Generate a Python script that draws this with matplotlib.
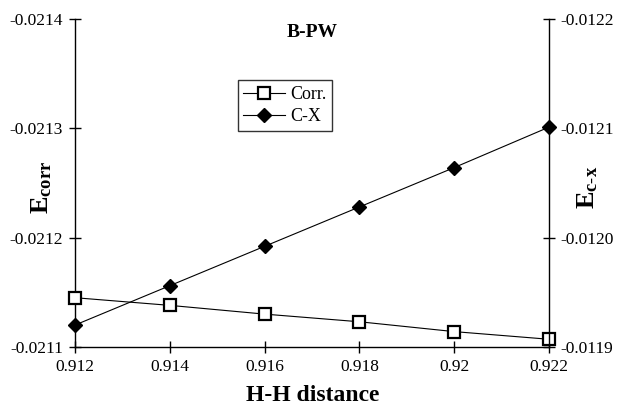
import matplotlib
matplotlib.use("Agg")
import matplotlib.pyplot as plt
from matplotlib.ticker import FuncFormatter

plt.rcParams['font.family'] = ['Liberation Serif', 'DejaVu Serif']
plt.rcParams['axes.unicode_minus'] = False
plt.rcParams['mathtext.fontset'] = 'custom'
plt.rcParams['mathtext.rm'] = 'Liberation Serif'
plt.rcParams['mathtext.bf'] = 'Liberation Serif:bold'
plt.rcParams['mathtext.it'] = 'Liberation Serif:italic'

# data
hh_distance = [0.912, 0.914, 0.916, 0.918, 0.920, 0.922]
e_corr = [-0.021145, -0.021138, -0.021130, -0.021123, -0.021114, -0.021107]
e_cx = [-0.011920, -0.011956, -0.011992, -0.012028, -0.012064, -0.012101]

x_ticks = [0.912, 0.914, 0.916, 0.918, 0.920, 0.922]
left_ticks = [-0.0214, -0.0213, -0.0212, -0.0211]
right_ticks = [-0.0122, -0.0121, -0.0120, -0.0119]

fig = plt.figure(figsize=(6.17, 4.12), dpi=100)
ax = fig.add_axes([0.1216, 0.158, 0.768, 0.796])
ax2 = ax.twinx()

l1, = ax.plot(hh_distance, e_corr, color='black', lw=0.8, marker='s',
              markersize=8, markerfacecolor='white', markeredgecolor='black',
              markeredgewidth=1.6, label='Corr.', zorder=3, clip_on=False)
l2, = ax2.plot(hh_distance, e_cx, color='black', lw=0.8, marker='D',
               markersize=7, markerfacecolor='black', markeredgecolor='black',
               label='C-X', zorder=3, clip_on=False)

ax.set_xlim(0.912, 0.922)
ax.set_ylim(-0.0211, -0.0214)
ax2.set_ylim(-0.0119, -0.0122)

ax.set_xticks(x_ticks)
ax.xaxis.set_major_formatter(FuncFormatter(lambda v, p: f"{v:g}"))
ax.set_yticks(left_ticks)
ax.yaxis.set_major_formatter(FuncFormatter(lambda v, p: f"{v:.4f}"))
ax2.set_yticks(right_ticks)
ax2.yaxis.set_major_formatter(FuncFormatter(lambda v, p: f"{v:.4f}"))

for a in (ax, ax2):
    a.spines['top'].set_visible(False)
    for s in a.spines.values():
        s.set_linewidth(1.0)
ax.spines['right'].set_visible(False)
ax2.spines['left'].set_visible(False)
ax2.spines['bottom'].set_visible(False)

ax.tick_params(axis='both', direction='inout', length=9, width=1.0,
               labelsize=12.5, pad=4)
ax2.tick_params(axis='y', direction='inout', length=9, width=1.0,
                labelsize=12.5, pad=4)

ax.text(0.5, 0.96, 'B-PW', transform=ax.transAxes, ha='center', va='center',
        fontsize=14, fontweight='bold')

fig.text(0.068, 0.545, r'$\mathbf{E}_{\mathbf{corr}}$', rotation=90,
         ha='center', va='center', fontsize=19)
fig.text(0.952, 0.545, r'$\mathbf{E}_{\mathbf{c\text{-}x}}$', rotation=90,
         ha='center', va='center', fontsize=19)
fig.text(0.506, 0.04, 'H-H distance', ha='center', va='center',
         fontsize=17, fontweight='bold')

leg = ax.legend(handles=[l1, l2], loc='upper left',
                bbox_to_anchor=(0.325, 0.84), fontsize=13, frameon=True,
                fancybox=False, edgecolor='black', handlelength=2.3,
                borderpad=0.3, labelspacing=0.3, handletextpad=0.3)
leg.get_frame().set_linewidth(1.0)

fig.savefig('out.png', dpi=100)
